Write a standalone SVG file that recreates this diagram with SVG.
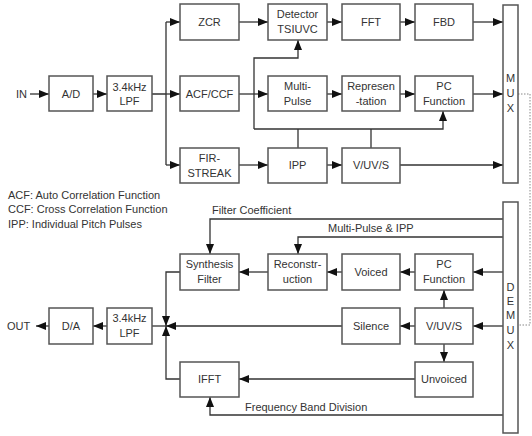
<svg xmlns="http://www.w3.org/2000/svg" width="532" height="436" viewBox="0 0 532 436">
<style>
.b{fill:#fff;stroke:#555;stroke-width:1.5}
.t{font-family:"Liberation Sans",Arial,sans-serif;font-size:11px;fill:#333;text-anchor:middle}
.l{font-family:"Liberation Sans",Arial,sans-serif;font-size:11px;fill:#333}
.c{fill:none;stroke:#333;stroke-width:1.3}
.a{marker-end:url(#ar)}
.d{fill:none;stroke:#888;stroke-width:1;stroke-dasharray:1.5 1.5}
</style>
<defs>
<marker id="ar" markerUnits="userSpaceOnUse" markerWidth="10" markerHeight="8" refX="10" refY="4" orient="auto">
<path d="M0,0 L10,4 L0,8 Z" fill="#111"/>
</marker>
</defs>
<rect width="532" height="436" fill="#fff"/>
<g id="connectors">
<path class="c a" d="M30,94 H49"/>
<path class="c a" d="M93,94 H107"/>
<path class="c" d="M152,94 H166 M166,22 V165"/>
<path class="c a" d="M166,22 H180"/>
<path class="c a" d="M166,94 H180"/>
<path class="c a" d="M166,165 H180"/>
<path class="c a" d="M239,22 H268"/>
<path class="c a" d="M327,22 H342"/>
<path class="c a" d="M400,22 H415"/>
<path class="c a" d="M473,22 H503"/>
<path class="c a" d="M239,94 H268"/>
<path class="c a" d="M327,94 H342"/>
<path class="c a" d="M400,94 H415"/>
<path class="c a" d="M473,94 H503"/>
<path class="c a" d="M239,165 H268"/>
<path class="c a" d="M327,165 H342"/>
<path class="c a" d="M400,165 H503"/>
<path class="c" d="M298,148 V129 M371,148 V129"/>
<path class="c a" d="M254,129 H443 V111"/>
<path class="c a" d="M254,129 V58 H298 V40"/>
<path class="d" d="M518,94 H530 V325 H518"/>
<path class="c a" d="M503,219 H210 V254"/>
<path class="c a" d="M503,237 H298 V254"/>
<path class="c a" d="M503,272 H473"/>
<path class="c a" d="M415,272 H400"/>
<path class="c a" d="M342,272 H327"/>
<path class="c a" d="M268,272 H239"/>
<path class="c a" d="M180,272 H166 V326"/>
<path class="c a" d="M180,379 H166 V326"/>
<path class="c a" d="M342,326 H166"/>
<path class="c" d="M166,326 H152"/>
<path class="c a" d="M107,326 H93"/>
<path class="c a" d="M49,326 H36"/>
<path class="c a" d="M503,326 H473"/>
<path class="c a" d="M415,326 H400"/>
<path class="c a" d="M444,308 V290"/>
<path class="c a" d="M444,344 V362"/>
<path class="c a" d="M415,379 H239"/>
<path class="c a" d="M503,415 H210 V397"/>
</g>
<g id="labels">
<text class="l" x="27" y="98" text-anchor="end">IN</text>
<text class="l" x="7" y="330">OUT</text>
<text class="l" x="8" y="199">ACF: Auto Correlation Function</text>
<text class="l" x="8" y="213">CCF: Cross Correlation Function</text>
<text class="l" x="8" y="228">IPP: Individual Pitch Pulses</text>
<text class="l" x="212" y="214">Filter Coefficient</text>
<text class="l" x="328" y="232">Multi-Pulse &amp; IPP</text>
<text class="l" x="245" y="411">Frequency Band Division</text>
</g>
<g id="ad"><rect class="b" x="49" y="76" width="44" height="35"/><text class="t" x="71" y="98">A/D</text></g>
<g id="lpf1"><rect class="b" x="107" y="76" width="45" height="35"/><text class="t" x="129.5" y="91">3.4kHz</text><text class="t" x="129.5" y="105">LPF</text></g>
<g id="zcr"><rect class="b" x="180" y="4" width="59" height="36"/><text class="t" x="209.5" y="26">ZCR</text></g>
<g id="acf"><rect class="b" x="180" y="76" width="59" height="35"/><text class="t" x="209.5" y="98">ACF/CCF</text></g>
<g id="fir"><rect class="b" x="180" y="148" width="59" height="35"/><text class="t" x="209.5" y="162">FIR-</text><text class="t" x="209.5" y="177">STREAK</text></g>
<g id="detector"><rect class="b" x="268" y="4" width="59" height="36"/><text class="t" x="297.5" y="18">Detector</text><text class="t" x="297.5" y="33">TSIUVC</text></g>
<g id="fft"><rect class="b" x="342" y="4" width="58" height="36"/><text class="t" x="371" y="26">FFT</text></g>
<g id="fbd"><rect class="b" x="415" y="4" width="58" height="36"/><text class="t" x="444" y="26">FBD</text></g>
<g id="multipulse"><rect class="b" x="268" y="76" width="59" height="35"/><text class="t" x="297.5" y="90">Multi-</text><text class="t" x="297.5" y="105">Pulse</text></g>
<g id="representation"><rect class="b" x="342" y="76" width="58" height="35"/><text class="t" x="371" y="90">Represen</text><text class="t" x="371" y="105">-tation</text></g>
<g id="pcf1"><rect class="b" x="415" y="76" width="58" height="35"/><text class="t" x="444" y="90">PC</text><text class="t" x="444" y="105">Function</text></g>
<g id="ipp"><rect class="b" x="268" y="148" width="59" height="35"/><text class="t" x="297.5" y="169">IPP</text></g>
<g id="vuvs1"><rect class="b" x="342" y="148" width="58" height="35"/><text class="t" x="371" y="169">V/UV/S</text></g>
<g id="mux"><rect class="b" x="503" y="5" width="15" height="178"/><text class="t" x="510.5" y="82">M</text><text class="t" x="510.5" y="97">U</text><text class="t" x="510.5" y="112">X</text></g>
<g id="demux"><rect class="b" x="503" y="202" width="15" height="231"/><text class="t" x="510.5" y="291">D</text><text class="t" x="510.5" y="305">E</text><text class="t" x="510.5" y="319">M</text><text class="t" x="510.5" y="334">U</text><text class="t" x="510.5" y="349">X</text></g>
<g id="synthesis"><rect class="b" x="180" y="254" width="59" height="36"/><text class="t" x="209.5" y="268">Synthesis</text><text class="t" x="209.5" y="283">Filter</text></g>
<g id="reconstruction"><rect class="b" x="268" y="254" width="59" height="36"/><text class="t" x="297.5" y="268">Reconstr-</text><text class="t" x="297.5" y="283">uction</text></g>
<g id="voiced"><rect class="b" x="342" y="254" width="58" height="36"/><text class="t" x="371" y="276">Voiced</text></g>
<g id="pcf2"><rect class="b" x="415" y="254" width="58" height="36"/><text class="t" x="444" y="268">PC</text><text class="t" x="444" y="283">Function</text></g>
<g id="da"><rect class="b" x="49" y="308" width="44" height="36"/><text class="t" x="71" y="330">D/A</text></g>
<g id="lpf2"><rect class="b" x="107" y="308" width="45" height="36"/><text class="t" x="129.5" y="322">3.4kHz</text><text class="t" x="129.5" y="337">LPF</text></g>
<g id="silence"><rect class="b" x="342" y="308" width="58" height="36"/><text class="t" x="371" y="330">Silence</text></g>
<g id="vuvs2"><rect class="b" x="415" y="308" width="58" height="36"/><text class="t" x="444" y="330">V/UV/S</text></g>
<g id="ifft"><rect class="b" x="180" y="362" width="59" height="35"/><text class="t" x="209.5" y="383">IFFT</text></g>
<g id="unvoiced"><rect class="b" x="415" y="362" width="58" height="35"/><text class="t" x="444" y="383">Unvoiced</text></g>
</svg>
